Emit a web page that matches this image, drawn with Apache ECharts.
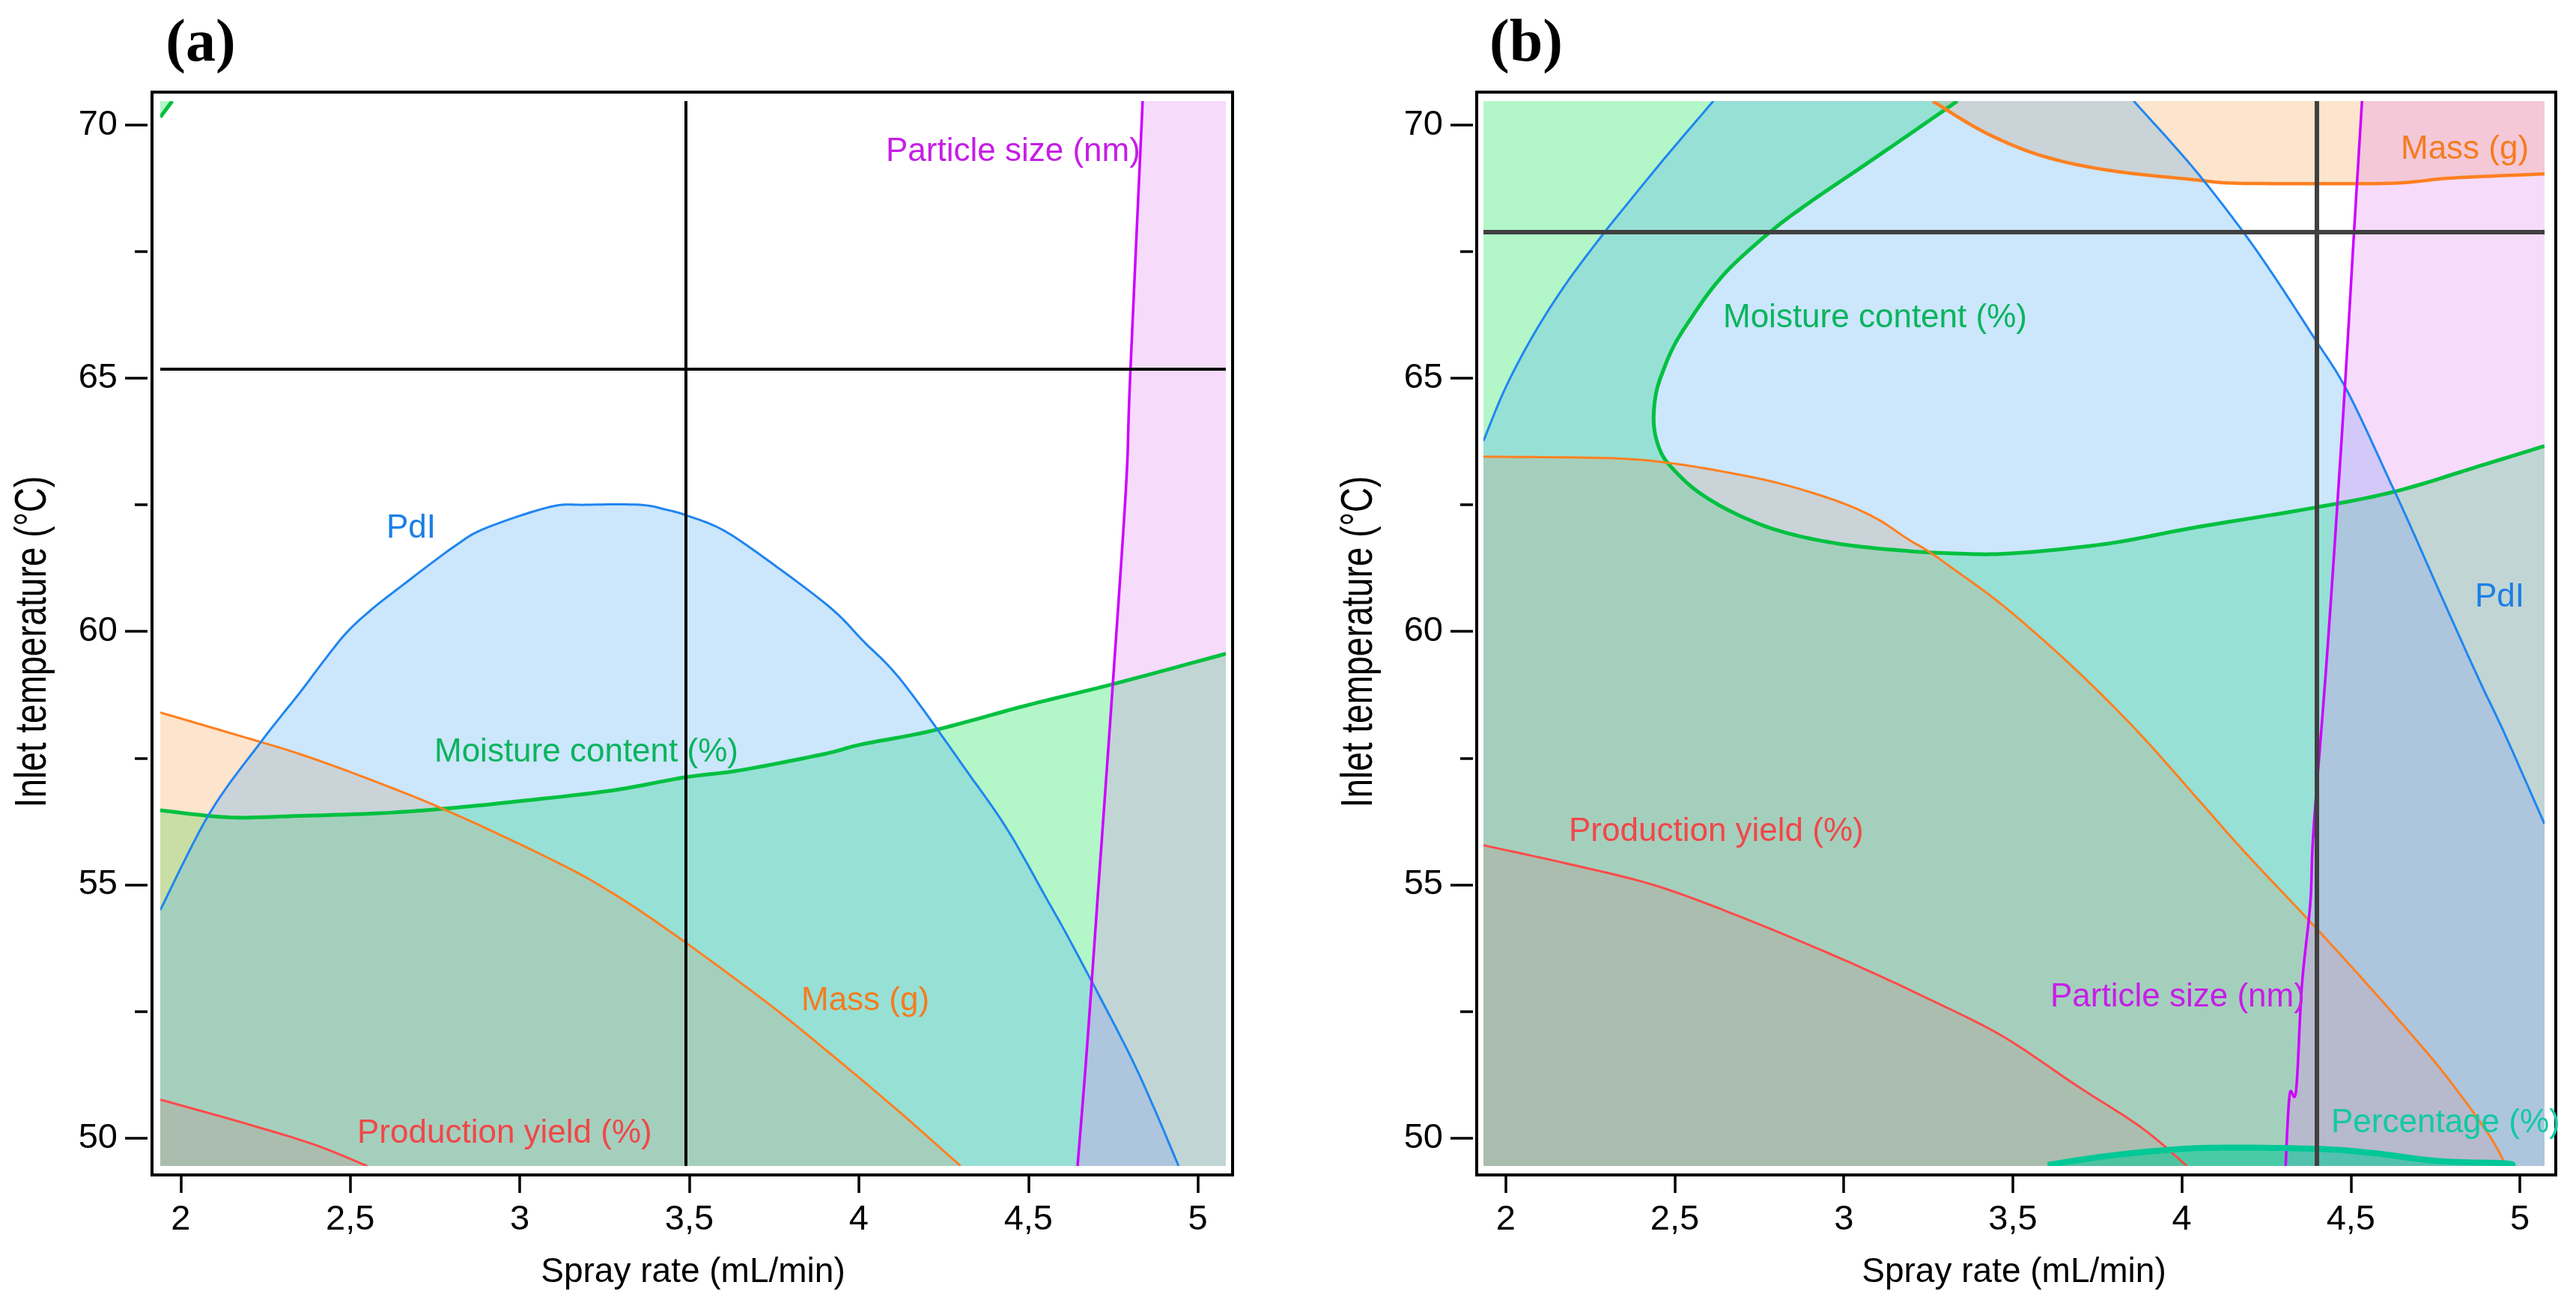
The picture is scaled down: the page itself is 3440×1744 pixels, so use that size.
<!DOCTYPE html>
<html>
<head>
<meta charset="utf-8">
<title>Design space (a) / (b)</title>
<script src="https://cdn.jsdelivr.net/npm/echarts@6/dist/echarts.min.js"></script>
<style>
html, body { margin: 0; padding: 0; background: #fff; }
#chart { width: 3440px; height: 1744px; }
</style>
</head>
<body>
<div id="chart"></div>
<script>
// ---- axis ranges and tick labels ----
var xRangeA = [1.9395, 5.0824];
var xRangeB = [1.934, 5.073];
var yRange = [49.45, 70.468];
var xTicks = [2, 2.5, 3, 3.5, 4, 4.5, 5];
var yTicks = [50, 55, 60, 65, 70];
var yMinorTicks = [52.5, 57.5, 62.5, 67.5];

// ---- panel (a) contours: [spray rate, inlet temperature] ----
var pdiA = [[1.9395, 54.5], [2.085, 56.41], [2.24, 57.85], [2.351, 58.79], [2.414, 59.35], [2.488, 59.97], [2.562, 60.43],
    [2.636, 60.82], [2.805, 61.67], [2.9, 62.04], [3.09, 62.46], [3.196, 62.5], [3.354, 62.5], [3.428, 62.41], [3.492, 62.29],
    [3.597, 62.01], [3.724, 61.44], [3.914, 60.48], [4.013, 59.81], [4.129, 59.0], [4.323, 57.2], [4.439, 56.08],
    [4.555, 54.71], [4.633, 53.77], [4.788, 51.79], [4.865, 50.68], [4.943, 49.45]];
var moistA = [[1.9395, 56.47], [2.145, 56.33], [2.351, 56.36], [2.582, 56.41], [2.773, 56.5], [2.985, 56.64], [3.27, 56.86],
    [3.486, 57.12], [3.65, 57.26], [3.897, 57.58], [4.007, 57.77], [4.222, 58.05], [4.5, 58.55], [4.749, 58.96], [5.0824, 59.56]];
var moistCornerA = [[1.9395, 70.15], [1.975, 70.468]];
var massA = [[1.9395, 58.4], [2.24, 57.81], [2.351, 57.58], [2.51, 57.2], [2.773, 56.5], [3.09, 55.51], [3.26, 54.89],
    [3.449, 54.05], [3.72, 52.72], [3.897, 51.77], [4.1, 50.63], [4.3, 49.45]];
var yieldA = [[1.9395, 50.76], [2.19, 50.29], [2.39, 49.88], [2.55, 49.45]];
var particleA = [[4.645, 49.45], [4.672, 51.71], [4.707, 55.0], [4.749, 58.96], [4.788, 62.86], [4.8, 65], [4.837, 70.468]];
var crossA = [3.49, 65.18];

// ---- panel (b) contours ----
var pdiLeftB = [[1.934, 63.76], [2.0, 64.82], [2.085, 65.89], [2.18, 66.88], [2.29, 67.86], [2.35, 68.36], [2.47, 69.34], [2.614, 70.468]];
var pdiRightB = [[3.858, 70.468], [4.03, 69.18], [4.17, 67.99], [4.27, 67.04], [4.39, 65.81], [4.49, 64.74], [4.62, 62.9],
    [4.675, 62.1], [4.773, 60.62], [4.877, 59.08], [4.955, 57.98], [5.073, 56.2]];
var moistB = [[3.336, 70.468], [3.2, 69.84], [3.056, 69.18], [2.91, 68.52], [2.794, 67.95], [2.681, 67.29], [2.614, 66.8],
    [2.551, 66.21], [2.5, 65.67], [2.467, 65.17], [2.444, 64.68], [2.438, 64.09], [2.455, 63.6], [2.489, 63.25], [2.568, 62.76],
    [2.681, 62.32], [2.817, 61.97], [2.986, 61.73], [3.167, 61.6], [3.325, 61.54], [3.495, 61.54], [3.777, 61.73],
    [4.037, 62.05], [4.39, 62.44], [4.635, 62.77], [4.878, 63.26], [5.073, 63.66]];
var massUpperB = [[3.263, 70.468], [3.42, 69.84], [3.59, 69.38], [3.785, 69.1], [4.03, 68.92], [4.15, 68.85], [4.39, 68.84],
    [4.635, 68.85], [4.8, 68.95], [5.073, 69.03]];
var massLowerB = [[1.934, 63.45], [2.308, 63.42], [2.478, 63.33], [2.647, 63.15], [2.817, 62.91], [2.986, 62.56], [3.099, 62.22],
    [3.19, 61.82], [3.246, 61.6], [3.325, 61.23], [3.473, 60.5], [3.668, 59.36], [3.863, 58.07], [4.058, 56.61], [4.188, 55.63],
    [4.37, 54.34], [4.513, 53.3], [4.643, 52.32], [4.773, 51.3], [4.903, 50.12], [4.96, 49.45]];
var yieldB = [[1.934, 55.78], [2.206, 55.38], [2.45, 54.97], [2.716, 54.31], [3.01, 53.49], [3.25, 52.75], [3.47, 52.01],
    [3.69, 51.03], [3.88, 50.21], [4.015, 49.45]];
var particleB = [[4.307, 49.45], [4.319, 50.86], [4.338, 50.94], [4.355, 53.0], [4.38, 54.64], [4.39, 56.12], [4.43, 59.57],
    [4.477, 64.25], [4.51, 67.95], [4.533, 70.468]];
var percentB = [[3.603, 49.47], [3.76, 49.63], [3.93, 49.75], [4.1, 49.81], [4.39, 49.79], [4.56, 49.71], [4.756, 49.55],
    [4.96, 49.5], [4.97, 49.45]];
var crossB = [4.4, 67.88];

// ---- styles ----
var FONT = "'Liberation Sans', Arial, sans-serif";
var fill = {
    moisture: 'rgba(2,225,72,0.3)',
    mass: 'rgba(248,165,85,0.3)',
    pdi: 'rgba(85,172,245,0.3)',
    particle: 'rgba(225,135,242,0.3)',
    yield: 'rgba(185,150,140,0.3)',
    percentage: 'rgba(0,200,150,0.55)'
};
var stroke = {
    moisture: ['#00c040', 5],
    mass: ['#ff8020', 3],
    massTop: ['#ff8020', 4.5],
    pdi: ['#1f86f0', 3],
    particle: ['#cc00ff', 3.5],
    yield: ['#ff4a4a', 3],
    percentage: ['#00c896', 8]
};
var textColor = {
    moisture: '#09b45e', mass: '#f47c20', pdi: '#1a7fe6',
    particle: '#c61ee6', yield: '#f04848', percentage: '#12c9a2'
};

var chart = echarts.init(document.getElementById('chart'));

// Catmull-Rom through the pixel points so the contours come out round
function spline(px, steps) {
    if (px.length < 3) return px.slice();
    var out = [px[0]];
    for (var i = 0; i < px.length - 1; i++) {
        var p0 = px[i - 1] || px[i], p1 = px[i], p2 = px[i + 1], p3 = px[i + 2] || px[i + 1];
        for (var s = 1; s <= steps; s++) {
            var t = s / steps, t2 = t * t, t3 = t2 * t;
            var pt = [0, 1].map(function (k) {
                return 0.5 * (2 * p1[k] + (p2[k] - p0[k]) * t +
                    (2 * p0[k] - 5 * p1[k] + 4 * p2[k] - p3[k]) * t2 +
                    (3 * p1[k] - p0[k] - 3 * p2[k] + p3[k]) * t3);
            });
            out.push(pt);
        }
    }
    return out;
}

function toPixels(parts, api) {
    var pts = [];
    parts.forEach(function (part) {
        pts = pts.concat(spline(part.map(function (p) { return api.coord(p); }), 10));
    });
    return pts;
}

// filled region: contour(s) plus the plot corners that close it
function area(parts, color, xi, yi) {
    var all = [].concat.apply([], parts);
    return {
        type: 'custom', xAxisIndex: xi, yAxisIndex: yi, clip: true, silent: true, z: 1,
        data: all,
        renderItem: function (params, api) {
            if (params.context.rendered) return;
            params.context.rendered = true;
            return { type: 'polygon', shape: { points: toPixels(parts, api) }, style: { fill: color } };
        }
    };
}

function curve(pts, key, xi, yi) {
    return {
        type: 'custom', xAxisIndex: xi, yAxisIndex: yi, clip: true, silent: true, z: 3,
        data: pts,
        renderItem: function (params, api) {
            if (params.context.rendered) return;
            params.context.rendered = true;
            return {
                type: 'polyline', shape: { points: toPixels([pts], api) },
                style: { fill: 'none', stroke: stroke[key][0], lineWidth: stroke[key][1], lineJoin: 'round' }
            };
        }
    };
}

function cross(c, color, width, xi, yi) {
    return {
        type: 'line', xAxisIndex: xi, yAxisIndex: yi, data: [], silent: true, z: 5,
        markLine: {
            symbol: 'none', silent: true, animation: false,
            label: { show: false },
            lineStyle: { color: color, width: width, type: 'solid' },
            data: [{ xAxis: c[0] }, { yAxis: c[1] }]
        }
    };
}

function xAxisFor(grid, range) {
    return {
        type: 'value', gridIndex: grid, min: range[0], max: range[1], offset: 14,
        axisLine: { show: false }, splitLine: { show: false },
        axisTick: { customValues: xTicks, length: 22, lineStyle: { color: '#000', width: 3.5 } },
        axisLabel: {
            customValues: xTicks, margin: 35, fontSize: 47, color: '#000', fontFamily: FONT,
            formatter: function (v) { return String(v).replace('.', ','); }
        },
        name: 'Spray rate (mL/min)', nameLocation: 'middle', nameGap: 105,
        nameTextStyle: { fontSize: 46, color: '#000', fontFamily: FONT }
    };
}

function yAxesFor(grid, offset) {
    return [{
        type: 'value', gridIndex: grid, position: 'left', min: yRange[0], max: yRange[1], offset: offset,
        axisLine: { show: false }, splitLine: { show: false },
        axisTick: { customValues: yTicks, length: 30, lineStyle: { color: '#000', width: 3.5 } },
        axisLabel: { customValues: yTicks, margin: 40, fontSize: 47, color: '#000', fontFamily: FONT }
    }, {
        type: 'value', gridIndex: grid, position: 'left', min: yRange[0], max: yRange[1], offset: offset,
        axisLine: { show: false }, splitLine: { show: false },
        axisTick: { customValues: yMinorTicks, length: 17, lineStyle: { color: '#000', width: 3.5 } },
        axisLabel: { show: false }
    }];
}

function label(text, key, x, y) {
    return {
        type: 'text', x: x, y: y, silent: true, z: 100,
        style: {
            text: text, fill: textColor[key], fontSize: 44, fontFamily: FONT,
            align: 'left', verticalAlign: 'middle', textAlign: 'left', textVerticalAlign: 'middle'
        }
    };
}

function yTitle(x) {
    return {
        type: 'text', x: x, y: 857, rotation: Math.PI / 2, scaleY: 1.3, silent: true,
        style: {
            text: 'Inlet temperature (°C)', fill: '#000', fontSize: 46, fontFamily: FONT,
            align: 'center', verticalAlign: 'middle', textAlign: 'center', textVerticalAlign: 'middle'
        }
    };
}

function panelTitle(text, x) {
    return {
        type: 'text', x: x, y: 60, silent: true,
        style: {
            text: text, fill: '#000', fontSize: 80, fontWeight: 'bold', fontFamily: "'Liberation Serif', 'Times New Roman', serif",
            align: 'center', verticalAlign: 'middle', textAlign: 'center', textVerticalAlign: 'middle'
        }
    };
}

function frame(x, w) {
    return {
        type: 'rect', shape: { x: x, y: 123, width: w, height: 1446 }, silent: true, z: 50,
        style: { fill: 'none', stroke: '#000', lineWidth: 4 }
    };
}

var xa = xRangeA, xb = xRangeB, y0 = yRange[0], y1 = yRange[1];

var series = [
    // panel (a) regions, drawn in stacking order
    area([moistA, [[xa[1], y0], [xa[0], y0]]], fill.moisture, 0, 0),
    area([moistCornerA, [[xa[0], y1]]], fill.moisture, 0, 0),
    area([massA, [[xa[0], y0]]], fill.mass, 0, 0),
    area([pdiA, [[xa[0], y0]]], fill.pdi, 0, 0),
    area([particleA, [[xa[1], y1], [xa[1], y0]]], fill.particle, 0, 0),
    area([yieldA, [[xa[0], y0]]], fill.yield, 0, 0),
    curve(moistA, 'moisture', 0, 0),
    curve(moistCornerA, 'moisture', 0, 0),
    curve(massA, 'mass', 0, 0),
    curve(pdiA, 'pdi', 0, 0),
    curve(particleA, 'particle', 0, 0),
    curve(yieldA, 'yield', 0, 0),
    cross(crossA, '#000', 4, 0, 0),

    // panel (b)
    area([moistB, [[xb[1], y0], [xb[0], y0], [xb[0], y1]]], fill.moisture, 1, 2),
    area([massUpperB, [[xb[1], y1]]], fill.mass, 1, 2),
    area([massLowerB, [[xb[0], y0]]], fill.mass, 1, 2),
    area([[[xb[0], y0]], pdiLeftB, pdiRightB, [[xb[1], y0]]], fill.pdi, 1, 2),
    area([particleB, [[xb[1], y1], [xb[1], y0]]], fill.particle, 1, 2),
    area([yieldB, [[xb[0], y0]]], fill.yield, 1, 2),
    area([percentB, [[percentB[0][0], y0]]], fill.percentage, 1, 2),
    curve(moistB, 'moisture', 1, 2),
    curve(massUpperB, 'massTop', 1, 2),
    curve(massLowerB, 'mass', 1, 2),
    curve(pdiLeftB, 'pdi', 1, 2),
    curve(pdiRightB, 'pdi', 1, 2),
    curve(particleB, 'particle', 1, 2),
    curve(yieldB, 'yield', 1, 2),
    curve(percentB, 'percentage', 1, 2),
    cross(crossB, '#404040', 6, 1, 2)
];

var option = {
    backgroundColor: '#fff',
    animation: false,
    grid: [
        { left: 214, top: 135, width: 1423, height: 1422 },
        { left: 1981, top: 135, width: 1417, height: 1422 }
    ],
    xAxis: [xAxisFor(0, xRangeA), xAxisFor(1, xRangeB)],
    yAxis: yAxesFor(0, 17).concat(yAxesFor(1, 14)),
    series: series,
    graphic: [
        frame(203, 1443),
        frame(1972, 1441),
        panelTitle('(a)', 268),
        panelTitle('(b)', 2038),
        yTitle(45),
        yTitle(1816),
        // panel (a) labels
        label('Particle size (nm)', 'particle', 1183, 203),
        label('PdI', 'pdi', 516, 706),
        label('Moisture content (%)', 'moisture', 580, 1005),
        label('Mass (g)', 'mass', 1070, 1337),
        label('Production yield (%)', 'yield', 477, 1514),
        // panel (b) labels
        label('Mass (g)', 'mass', 3206, 200),
        label('Moisture content (%)', 'moisture', 2301, 425),
        label('PdI', 'pdi', 3305, 798),
        label('Production yield (%)', 'yield', 2095, 1111),
        label('Particle size (nm)', 'particle', 2738, 1332),
        label('Percentage (%)', 'percentage', 3113, 1500)
    ]
};

chart.setOption(option);
window.addEventListener('resize', function () {
    chart.resize();
});
</script>
</body>
</html>
